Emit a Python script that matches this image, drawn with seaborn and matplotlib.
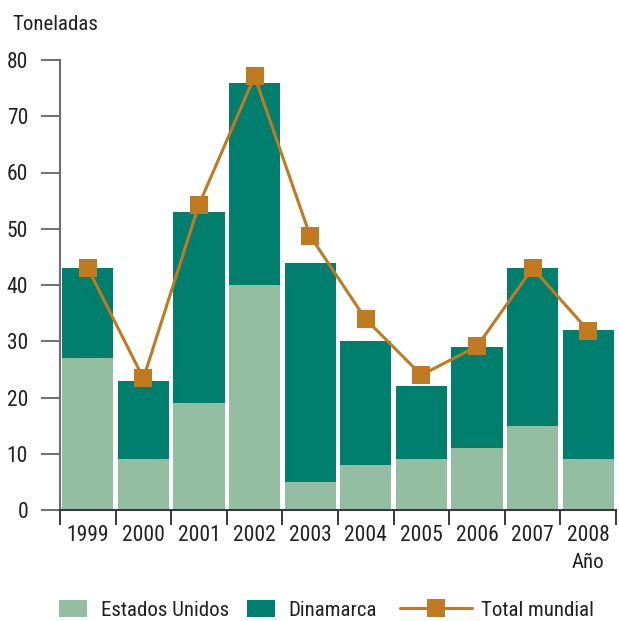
import matplotlib
matplotlib.use("Agg")
import matplotlib.pyplot as plt
from matplotlib.patches import Patch
from matplotlib.lines import Line2D
from matplotlib.ticker import FixedLocator
import seaborn as sns
import numpy as np

years = ["1999", "2000", "2001", "2002", "2003", "2004", "2005", "2006", "2007", "2008"]
estados_unidos = [27, 9, 19, 40, 5, 8, 9, 11, 15, 9]
dinamarca = [16, 14, 34, 36, 39, 22, 13, 18, 28, 23]
total_mundial = [43, 23.4, 54.3, 77.1, 48.7, 33.9, 24, 29.1, 43, 31.9]
y_ticks = [0, 10, 20, 30, 40, 50, 60, 70, 80]

LIGHT = "#94bea2"
DARK = "#007e6e"
ORANGE = "#c17a1f"
TEXT = "#231f20"

sns.set_theme(style="white")
plt.rcParams["font.family"] = ["Roboto Condensed", "DejaVu Sans"]
plt.rcParams["text.color"] = TEXT

W, H = 619, 621
fig = plt.figure(figsize=(W / 100, H / 100), dpi=100)
ax = fig.add_axes([60 / W, 1 - 510 / H, 556 / W, 450 / H])

stack_top = [u + d for u, d in zip(estados_unidos, dinamarca)]
sns.barplot(x=years, y=stack_top, color=DARK, saturation=1, width=0.92,
            linewidth=0, ax=ax, zorder=2)
sns.barplot(x=years, y=estados_unidos, color=LIGHT, saturation=1, width=0.92,
            linewidth=0, ax=ax, zorder=2)
sns.pointplot(x=years, y=total_mundial, color=ORANGE, markers="s",
              markersize=12.5, linewidth=2.2, markeredgewidth=0, ax=ax, zorder=5)
for ln in ax.lines:
    ln.set_zorder(5)

n = len(years)
ax.set_xlim(-0.5, n - 0.5)
ax.set_ylim(0, 80)
ax.set_xlabel("")
ax.set_ylabel("")

ax.xaxis.set_major_locator(FixedLocator(np.arange(n + 1) - 0.5))
ax.xaxis.set_minor_locator(FixedLocator(np.arange(n)))
ax.set_xticklabels([], minor=False)
ax.set_xticks(np.arange(n), labels=years, minor=True)
ax.tick_params(axis="x", which="major", direction="out", length=11, width=1.4,
               color="#3a3a3a", bottom=True)
ax.tick_params(axis="x", which="minor", length=0, pad=11, labelsize=15.5,
               labelcolor=TEXT, bottom=True)

ax.set_yticks(y_ticks)
ax.set_yticklabels([str(v) for v in y_ticks])
ax.tick_params(axis="y", direction="out", length=14, width=1.4, color="#6d6e71",
               pad=9, labelsize=15.5, labelcolor=TEXT, left=True)

for s in ["top", "right"]:
    ax.spines[s].set_visible(False)
ax.spines["left"].set_color("#6d6e71")
ax.spines["left"].set_linewidth(1.5)
ax.spines["bottom"].set_color("#3a3a3a")
ax.spines["bottom"].set_linewidth(1.5)
ax.grid(False)

fig.text(12 / W, 1 - 25 / H, "Toneladas", ha="left", va="center", fontsize=15, color=TEXT)
fig.text(604 / W, 1 - 562 / H, "Año", ha="right", va="center", fontsize=15, color=TEXT)

h1 = [Patch(facecolor=LIGHT, edgecolor="none"), Patch(facecolor=DARK, edgecolor="none")]
leg1 = fig.legend(h1, ["Estados Unidos", "Dinamarca"], loc="center left",
                  bbox_to_anchor=(59 / W, 1 - 610 / H), ncol=2, frameon=False,
                  fontsize=15, handlelength=1.35, handleheight=0.9,
                  handletextpad=0.65, columnspacing=0.85, borderpad=0, borderaxespad=0)
h2 = [Line2D([0], [0], color=ORANGE, lw=2.2, marker="s", markersize=12.5, markeredgewidth=0)]
leg2 = fig.legend(h2, ["Total mundial"], loc="center left",
                  bbox_to_anchor=(400 / W, 1 - 610 / H), frameon=False,
                  fontsize=15, handlelength=3.45, handletextpad=0.45,
                  borderpad=0, borderaxespad=0)

fig.savefig("out.png", dpi=100)
